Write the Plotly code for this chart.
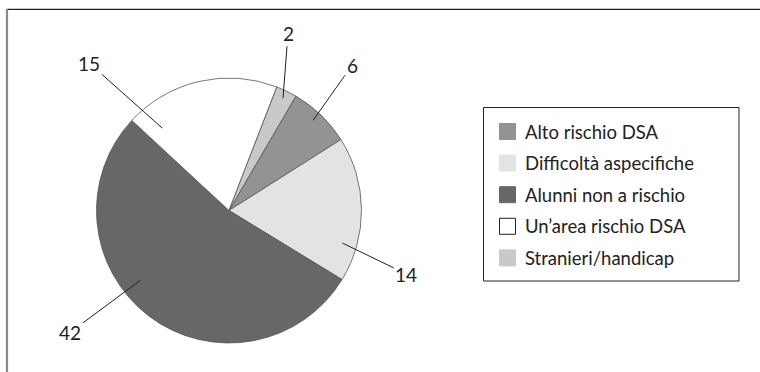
import math
import plotly.graph_objects as go

# Data
categories = ["Alto rischio DSA", "Difficoltà aspecifiche", "Alunni non a rischio",
              "Un’area rischio DSA", "Stranieri/handicap"]
values = [6, 14, 42, 15, 2]

# Styling
colors = ["#939393", "#e3e3e3", "#676767", "#ffffff", "#c9c9c9"]
swatch_lines = ["#939393", "#e3e3e3", "#676767", "#222222", "#c9c9c9"]
W, H = 760, 372
FONT = "Lato"
TEXT = "#222222"

# pie geometry (pixels)
CX, CY, R = 229, 210.5, 132.5
ROTATION = 30.3

# leader-line anchors: angle (deg, clockwise from 12 o'clock), radius fraction,
# text offset from anchor (px)
label_anchor = [(43, 0.93, 39, -55), (106, 0.89, 64, 31), (231.8, 0.85, -70, 52),
                (321, 0.80, -73, -65), (25.7, 0.94, 5, -65)]


def px(x):
    return x / W


def py(y):
    return 1 - y / H


fig = go.Figure(go.Pie(
    labels=categories,
    values=values,
    sort=False,
    direction="clockwise",
    rotation=ROTATION,
    marker=dict(colors=colors, line=dict(color="#555555", width=0.8)),
    textinfo="none",
    hoverinfo="label+value",
    showlegend=False,
    domain=dict(x=[px(CX - R), px(CX + R)], y=[py(CY + R), py(CY - R)]),
))

annotations = []
for v, (ang, frac, ax, ay) in zip(values, label_anchor):
    a = math.radians(ang)
    x0 = CX + frac * R * math.sin(a)
    y0 = CY - frac * R * math.cos(a)
    annotations.append(dict(
        x=px(x0), y=py(y0), xref="paper", yref="paper",
        text=str(v), showarrow=True, arrowhead=0, arrowwidth=1,
        arrowcolor="#222222", ax=ax, ay=ay, standoff=0,
        font=dict(family=FONT, size=19, color=TEXT),
    ))

shapes = [
    # frame
    dict(type="line", xref="paper", yref="paper", x0=px(7), x1=1, y0=py(9.3), y1=py(9.3),
         line=dict(color="#222222", width=1.3)),
    dict(type="line", xref="paper", yref="paper", x0=px(7), x1=px(7), y0=py(9), y1=0,
         line=dict(color="#888888", width=2.2)),
    # legend box
    dict(type="rect", xref="paper", yref="paper", x0=px(483.5), x1=px(739), y0=py(281),
         y1=py(107.5), line=dict(color="#222222", width=1), fillcolor="rgba(0,0,0,0)"),
]

LEG_Y0, LEG_DY = 131.5, 31.6
for i, (name, c, lc) in enumerate(zip(categories, colors, swatch_lines)):
    yc = LEG_Y0 + i * LEG_DY
    shapes.append(dict(type="rect", xref="paper", yref="paper",
                       x0=px(499.5), x1=px(515.5), y0=py(yc + 8), y1=py(yc - 8),
                       fillcolor=c, line=dict(color=lc, width=1)))
    annotations.append(dict(x=px(523), y=py(yc), xref="paper", yref="paper",
                            xanchor="left", yanchor="middle", showarrow=False,
                            text=name, font=dict(family=FONT, size=18.5, color=TEXT)))

fig.update_layout(
    width=W, height=H,
    margin=dict(l=0, r=0, t=0, b=0),
    paper_bgcolor="white", plot_bgcolor="white",
    shapes=shapes, annotations=annotations,
)

fig.write_html("out.html")
